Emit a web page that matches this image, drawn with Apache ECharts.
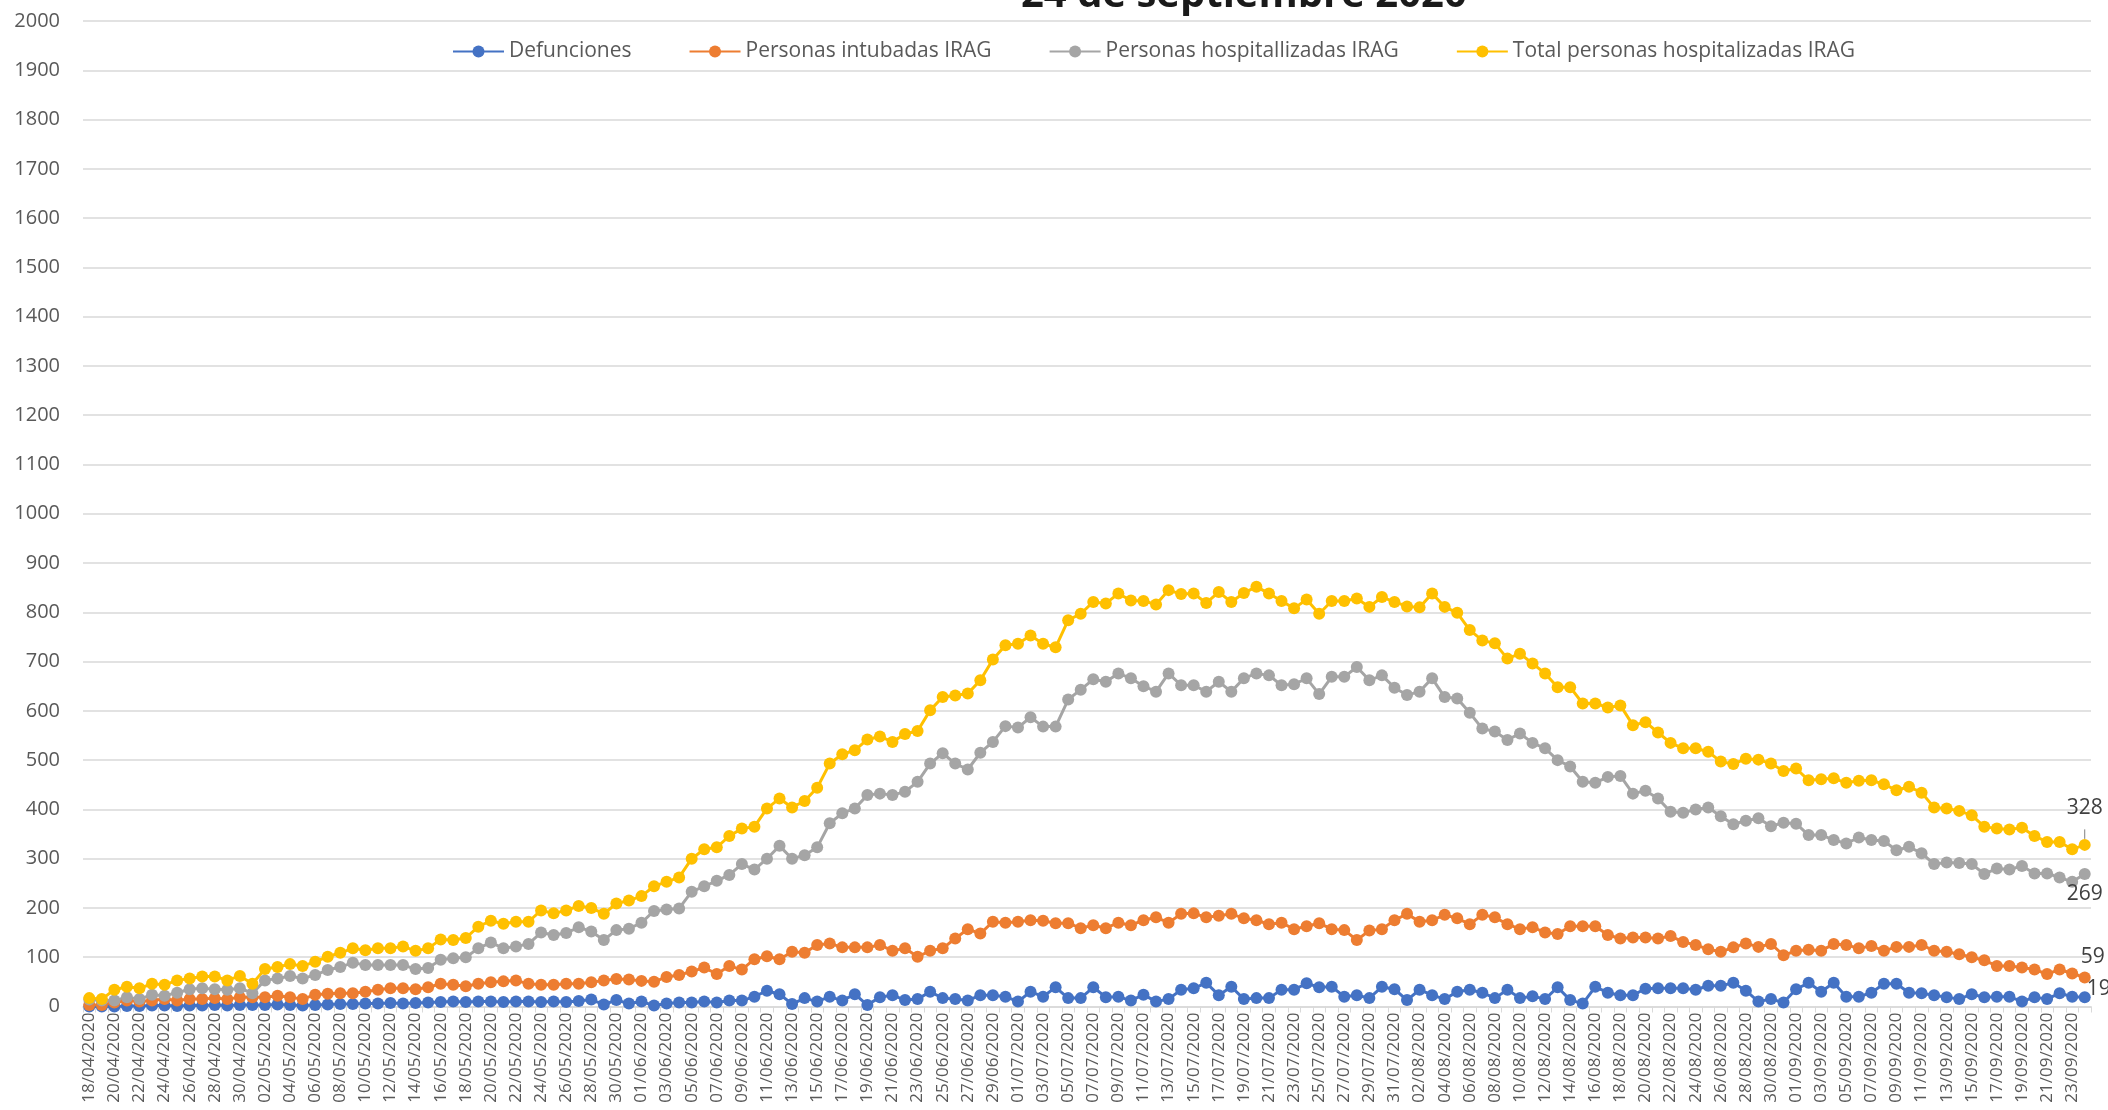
<!DOCTYPE html>
<html>
<head>
<meta charset="utf-8">
<script src="https://cdn.jsdelivr.net/npm/echarts@6/dist/echarts.min.js"></script>
<style>
  html, body { margin: 0; padding: 0; background: #fff; }
  #main { width: 2108px; height: 1110px; }
</style>
</head>
<body>
<div id="main"></div>
<script>
// dias del 18/04/2020 al 24/09/2020
const fechas = [
  '18/04/2020','19/04/2020','20/04/2020','21/04/2020','22/04/2020','23/04/2020','24/04/2020','25/04/2020','26/04/2020','27/04/2020','28/04/2020','29/04/2020','30/04/2020',
  '01/05/2020','02/05/2020','03/05/2020','04/05/2020','05/05/2020','06/05/2020','07/05/2020','08/05/2020','09/05/2020','10/05/2020','11/05/2020','12/05/2020','13/05/2020','14/05/2020','15/05/2020','16/05/2020','17/05/2020','18/05/2020','19/05/2020','20/05/2020','21/05/2020','22/05/2020','23/05/2020','24/05/2020','25/05/2020','26/05/2020','27/05/2020','28/05/2020','29/05/2020','30/05/2020','31/05/2020',
  '01/06/2020','02/06/2020','03/06/2020','04/06/2020','05/06/2020','06/06/2020','07/06/2020','08/06/2020','09/06/2020','10/06/2020','11/06/2020','12/06/2020','13/06/2020','14/06/2020','15/06/2020','16/06/2020','17/06/2020','18/06/2020','19/06/2020','20/06/2020','21/06/2020','22/06/2020','23/06/2020','24/06/2020','25/06/2020','26/06/2020','27/06/2020','28/06/2020','29/06/2020','30/06/2020',
  '01/07/2020','02/07/2020','03/07/2020','04/07/2020','05/07/2020','06/07/2020','07/07/2020','08/07/2020','09/07/2020','10/07/2020','11/07/2020','12/07/2020','13/07/2020','14/07/2020','15/07/2020','16/07/2020','17/07/2020','18/07/2020','19/07/2020','20/07/2020','21/07/2020','22/07/2020','23/07/2020','24/07/2020','25/07/2020','26/07/2020','27/07/2020','28/07/2020','29/07/2020','30/07/2020','31/07/2020',
  '01/08/2020','02/08/2020','03/08/2020','04/08/2020','05/08/2020','06/08/2020','07/08/2020','08/08/2020','09/08/2020','10/08/2020','11/08/2020','12/08/2020','13/08/2020','14/08/2020','15/08/2020','16/08/2020','17/08/2020','18/08/2020','19/08/2020','20/08/2020','21/08/2020','22/08/2020','23/08/2020','24/08/2020','25/08/2020','26/08/2020','27/08/2020','28/08/2020','29/08/2020','30/08/2020','31/08/2020',
  '01/09/2020','02/09/2020','03/09/2020','04/09/2020','05/09/2020','06/09/2020','07/09/2020','08/09/2020','09/09/2020','10/09/2020','11/09/2020','12/09/2020','13/09/2020','14/09/2020','15/09/2020','16/09/2020','17/09/2020','18/09/2020','19/09/2020','20/09/2020','21/09/2020','22/09/2020','23/09/2020','24/09/2020'
];

const defunciones = [
  0,0,0,1,1,2,2,1,2,2, 3,2,3,3,3,4,3,2,3,4, 5,5,6,6,7,6,7,8,9,10, 9,10,10,9,10,10,9,10,9,11,
  14,4,13,6,10,2,6,8,8,10, 8,12,12,20,32,25,5,17,10,20, 12,25,3,19,23,13,15,30,17,15, 12,23,23,20,10,30,20,39,17,17,
  39,19,20,12,24,10,15,34,37,48, 23,40,15,17,17,34,34,47,39,40, 20,23,17,40,35,13,34,23,15,30, 34,28,17,34,17,21,15,39,13,6,
  40,28,23,23,36,37,37,37,34,42, 42,48,32,10,15,8,35,48,30,48, 20,20,28,46,46,28,27,23,19,15, 25,19,20,20,10,19,15,27,20,19
];

const intubadas = [
  3,3,8,12,10,12,15,12,15,15, 17,15,19,19,19,22,19,15,24,26, 27,27,30,34,37,37,35,39,46,44, 41,46,49,51,53,46,44,44,46,46,
  49,53,56,55,52,50,60,64,71,79, 66,82,75,96,102,96,111,109,125,128, 120,120,120,125,113,118,101,113,118,138, 157,148,172,170,172,175,174,169,169,159,
  165,159,170,165,175,181,170,188,189,181, 184,188,179,175,167,170,157,163,169,157, 155,135,154,157,175,188,172,175,186,179, 167,186,181,167,157,161,150,147,163,163,
  163,145,138,140,140,138,143,131,125,116, 111,120,128,121,127,104,113,115,113,127, 125,118,123,113,121,121,125,113,111,106, 100,94,82,82,79,75,66,75,67,59
];

const hospitalizadas = [
  14,12,12,19,15,24,22,28,35,37, 35,34,37,27,53,57,62,57,64,74, 80,89,84,84,84,84,76,78,95,98, 100,118,130,118,122,127,150,145,149,161,
  152,135,155,158,170,194,197,199,233,244, 255,267,289,278,300,326,300,307,323,372, 392,402,429,432,429,436,456,493,514,493, 481,515,537,569,566,587,568,568,623,643,
  664,659,676,666,650,639,676,652,652,639, 659,639,666,676,672,652,654,666,634,669, 669,689,662,672,647,632,639,666,628,625, 596,564,558,541,554,535,524,500,487,456,
  454,466,468,432,438,422,395,393,400,404, 386,370,377,382,366,373,371,348,348,338, 331,343,338,336,317,324,311,289,292,291, 289,269,280,278,285,270,270,262,253,269
];

const totalHosp = [
  17,15,34,40,37,46,44,53,57,61, 61,53,62,46,76,80,86,82,91,101, 109,118,114,118,118,122,113,118,136,135, 139,162,174,168,172,172,195,189,195,204,
  200,188,209,215,224,244,253,262,300,319, 323,346,361,365,402,422,404,417,444,493, 512,520,542,548,537,553,559,601,628,631, 635,662,704,733,736,753,736,729,784,797,
  821,818,838,824,823,816,845,837,838,819, 841,821,839,852,838,823,808,826,797,823, 823,828,811,831,821,812,810,838,811,799, 764,743,737,706,716,696,676,648,648,615,
  615,607,611,571,577,556,535,524,524,517, 497,492,503,501,493,478,483,459,461,463, 454,458,459,451,439,446,434,404,402,397, 388,365,361,359,363,346,334,334,319,328
];

const nombres = ['Defunciones', 'Personas intubadas IRAG', 'Personas hospitallizadas IRAG', 'Total personas hospitalizadas IRAG'];
const colores = ['#4472C4', '#ED7D31', '#A5A5A5', '#FFC000'];

const fuente = 'Open Sans';
const gris = '#595959';

// solo el ultimo punto lleva etiqueta
function conEtiqueta(arr, label) {
  return arr.map((v, i) => i === arr.length - 1 ? { value: v, label: Object.assign({ show: true }, label) } : v);
}

function serie(idx, data, label) {
  return {
    name: nombres[idx],
    type: 'line',
    data: conEtiqueta(data, label),
    symbol: 'circle',
    symbolSize: 12,
    showAllSymbol: true,
    lineStyle: { color: colores[idx], width: 3 },
    itemStyle: { color: colores[idx] },
    label: { show: false, color: '#404040', fontFamily: fuente, fontSize: 21 }
  };
}

var myChart = echarts.init(document.getElementById('main'));
myChart.setOption({
  animation: false,
  backgroundColor: '#fff',
  textStyle: { fontFamily: fuente },
  // el titulo queda cortado por arriba, como en la imagen original
  graphic: [{
    type: 'text',
    left: 1021,
    top: -24,
    style: { text: '24 de septiembre 2020', fontFamily: fuente, fontSize: 40, fontWeight: 'bold', fill: '#1a1a1a' }
  }],
  legend: {
    left: 447,
    top: 36,
    itemWidth: 51,
    itemHeight: 15,
    itemGap: 57,
    textStyle: { color: gris, fontSize: 21, fontFamily: fuente },
    data: nombres
  },
  grid: { left: 83, right: 17, top: 21, bottom: 103.5 },
  xAxis: {
    type: 'category',
    data: fechas,
    boundaryGap: true,
    axisLine: { lineStyle: { color: '#d9d9d9', width: 1.5 } },
    axisTick: { show: true, interval: 0, length: 6, lineStyle: { color: '#d9d9d9' } },
    axisLabel: { interval: 1, rotate: 90, margin: 6, color: gris, fontSize: 17, fontFamily: fuente }
  },
  yAxis: {
    type: 'value',
    min: 0,
    max: 2000,
    interval: 100,
    axisLine: { show: false },
    axisTick: { show: false },
    axisLabel: { color: gris, fontSize: 20, fontFamily: fuente, margin: 23, formatter: v => String(v) },
    splitLine: { lineStyle: { color: '#d9d9d9', width: 1.5 } }
  },
  series: [
    serie(0, defunciones, { position: 'right', distance: -4, offset: [0, -8] }),
    serie(1, intubadas, { position: 'top', distance: 4, offset: [8, 0] }),
    serie(2, hospitalizadas, { position: 'bottom', distance: 4 }),
    Object.assign(serie(3, totalHosp, { position: 'top', distance: 20 }), {
      labelLine: { show: true, lineStyle: { color: '#7f7f7f', width: 1 } }
    })
  ]
});
</script>
</body>
</html>
